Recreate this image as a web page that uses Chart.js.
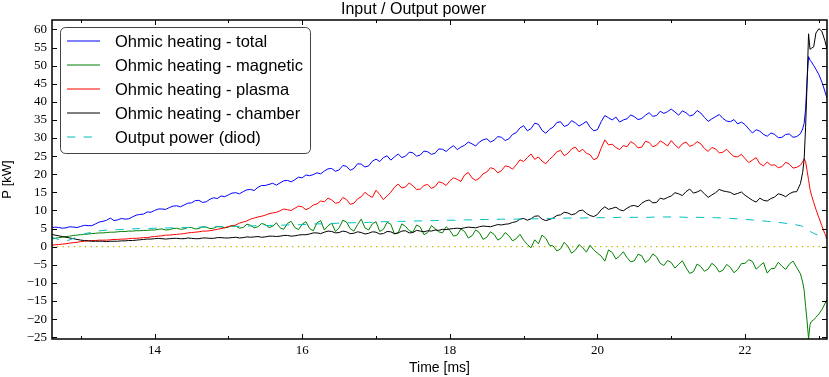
<!DOCTYPE html>
<html>
<head>
<meta charset="utf-8">
<script src="https://cdn.jsdelivr.net/npm/chart.js@4/dist/chart.umd.min.js"></script>
<style>
  html, body { margin: 0; padding: 0; background: #fff; }
  canvas { display: block; }
</style>
</head>
<body>
<canvas id="power-chart" width="829" height="377"></canvas>
<script>
'use strict';

// sample times [ms] of the ohmic heating traces
const times = [
  12.6, 12.65, 12.7, 12.75, 12.8, 12.85, 12.9, 12.95,
  13.0, 13.05, 13.1, 13.15, 13.2, 13.25, 13.3, 13.35, 13.4, 13.45, 13.5, 13.55, 13.6, 13.65, 13.7, 13.75, 13.8, 13.85, 13.9, 13.95,
  14.0, 14.05, 14.1, 14.15, 14.2, 14.25, 14.3, 14.35, 14.4, 14.45, 14.5, 14.55, 14.6, 14.65, 14.7, 14.75, 14.8, 14.85, 14.9, 14.95,
  15.0, 15.05, 15.1, 15.15, 15.2, 15.25, 15.3, 15.35, 15.4, 15.45, 15.5, 15.55, 15.6, 15.65, 15.7, 15.75, 15.8, 15.85, 15.9, 15.95,
  16.0, 16.05, 16.1, 16.15, 16.2, 16.25, 16.3, 16.35, 16.4, 16.45, 16.5, 16.55, 16.6, 16.65, 16.7, 16.75, 16.8, 16.85, 16.9, 16.95,
  17.0, 17.05, 17.1, 17.15, 17.2, 17.25, 17.3, 17.35, 17.4, 17.45, 17.5, 17.55, 17.6, 17.65, 17.7, 17.75, 17.8, 17.85, 17.9, 17.95,
  18.0, 18.05, 18.1, 18.15, 18.2, 18.25, 18.3, 18.35, 18.4, 18.45, 18.5, 18.55, 18.6, 18.65, 18.7, 18.75, 18.8, 18.85, 18.9, 18.95,
  19.0, 19.05, 19.1, 19.15, 19.2, 19.25, 19.3, 19.35, 19.4, 19.45, 19.5, 19.55, 19.6, 19.65, 19.7, 19.75, 19.8, 19.85, 19.9, 19.95,
  20.0, 20.05, 20.1, 20.15, 20.2, 20.25, 20.3, 20.35, 20.4, 20.45, 20.5, 20.55, 20.6, 20.65, 20.7, 20.75, 20.8, 20.85, 20.9, 20.95,
  21.0, 21.05, 21.1, 21.15, 21.2, 21.25, 21.3, 21.35, 21.4, 21.45, 21.5, 21.55, 21.6, 21.65, 21.7, 21.75, 21.8, 21.85, 21.9, 21.95,
  22.0, 22.05, 22.1, 22.15, 22.2, 22.25, 22.3, 22.35, 22.4, 22.45, 22.5, 22.55, 22.6, 22.65, 22.7,
  22.75, 22.78, 22.8, 22.82, 22.84, 22.86, 22.88, 22.9, 22.93, 22.96, 23.0, 23.04, 23.08, 23.11,
];

const ohmicTotal = [
  5.2, 5.4, 5.3, 5.1, 5.2, 5.5, 5.4, 5.3,
  5.6, 5.9, 5.8, 5.8, 6.3, 6.8, 7.0, 7.3, 7.9, 7.2, 7.4, 7.8, 7.6, 7.7, 8.2, 8.7, 8.9, 9.0, 9.6, 9.5,
  10.0, 10.4, 10.4, 10.3, 10.8, 11.2, 11.3, 11.0, 11.5, 12.0, 12.1, 12.7, 12.8, 12.2, 12.4, 13.1, 13.5, 13.3, 14.0, 13.8,
  14.3, 14.8, 14.9, 14.6, 15.2, 15.7, 15.8, 15.5, 16.4, 16.9, 16.9, 17.2, 17.5, 17.0, 17.6, 18.2, 18.3, 17.9, 18.5, 19.2,
  19.0, 19.8, 19.6, 19.9, 20.4, 20.1, 20.9, 21.5, 21.6, 20.8, 21.2, 22.4, 22.2, 21.1, 21.6, 22.9, 22.8, 22.0, 22.3, 23.6,
  24.2, 23.5, 24.6, 25.1, 23.9, 24.8, 25.6, 24.6, 25.0, 26.1, 25.9, 25.0, 25.3, 26.4, 26.2, 25.5, 25.8, 27.0, 26.9, 26.3,
  27.2, 27.9, 26.8, 27.5, 28.0, 28.9, 28.4, 27.8, 28.9, 29.5, 29.8, 28.9, 29.4, 30.4, 30.2, 29.3, 29.8, 31.0, 31.5, 32.8,
  33.4, 32.0, 32.6, 34.1, 33.8, 32.1, 31.3, 32.4, 33.0, 34.3, 34.5, 33.2, 33.6, 34.8, 34.2, 33.3, 33.9, 34.6, 33.0, 32.0,
  32.3, 34.5, 36.2, 35.6, 35.0, 35.8, 34.4, 35.0, 35.3, 36.4, 35.9, 35.1, 35.4, 36.3, 37.0, 36.0, 36.2, 37.4, 36.8, 37.3,
  38.0, 37.2, 36.3, 37.5, 37.0, 36.1, 36.4, 37.6, 36.9, 35.7, 34.6, 35.3, 35.9, 36.5, 35.4, 34.7, 34.5, 35.1, 33.9, 34.4,
  33.7, 32.5, 31.4, 32.3, 31.9, 31.0, 30.5, 31.4, 31.0, 30.1, 30.2, 31.0, 31.1, 30.2, 30.4,
  31.2, 32.5, 34.0, 38.0, 46.0, 52.5, 51.5, 51.0, 50.0, 49.0, 47.5, 45.5, 43.0, 41.0,
];

const ohmicMagnetic = [
  2.1, 2.3, 2.5, 2.6, 2.8, 2.9, 3.1, 3.2,
  3.3, 3.4, 3.5, 3.6, 3.7, 3.8, 3.8, 3.9, 4.0, 4.0, 4.1, 4.2, 4.2, 4.3, 4.3, 4.4, 4.4, 4.5, 4.5, 4.6,
  4.6, 4.8, 4.9, 4.6, 4.7, 5.0, 5.1, 4.8, 4.9, 5.3, 5.3, 4.9, 5.0, 5.5, 5.4, 5.0, 5.1, 5.6, 5.5, 5.2,
  5.4, 5.9, 5.7, 5.1, 5.3, 6.2, 5.9, 5.2, 5.5, 6.4, 6.1, 5.3, 5.6, 6.6, 5.2, 4.8, 6.4, 7.0, 5.3, 4.7,
  6.2, 6.9, 5.0, 4.4, 6.6, 7.2, 4.6, 5.8, 6.5, 4.2, 5.2, 7.3, 6.8, 5.0, 4.3, 6.1, 7.6, 5.2, 4.6, 6.3,
  6.9, 4.2, 4.8, 6.7, 6.2, 3.5, 3.8, 6.3, 5.6, 4.4, 4.0, 6.0, 5.4, 3.3, 3.9, 5.8, 5.0, 4.1, 3.8, 5.5,
  4.5, 2.9, 3.2, 4.9, 4.2, 2.4, 3.0, 4.6, 3.9, 2.0, 2.6, 4.1, 3.4, 1.8, 2.5, 3.9, 3.0, 1.6, 2.2, 3.4,
  1.8, 0.6, -0.3, 1.9, 0.8, 3.2, 2.3, 0.4, 0.2, -1.2, -0.6, 1.2, 0.1, -1.8, -1.0, 0.6, -0.3, -1.5, 0.4, -0.9,
  -1.8, -2.6, -4.0, -0.9, -1.6, -3.4, -2.6, -1.4, -3.0, -4.2, -3.9, -2.1, -2.5, -4.4, -3.6, -2.0, -2.8, -4.6, -5.2, -3.8,
  -4.4, -5.9, -4.9, -3.9, -5.8, -7.4, -6.9, -4.8, -5.5, -6.8, -6.2, -4.6, -5.4, -7.0, -6.5, -4.9, -5.7, -7.2, -6.3, -4.7,
  -4.6, -3.6, -4.1, -6.2, -5.3, -4.4, -7.3, -6.1, -6.0, -4.3, -5.4, -6.3, -4.8, -4.0, -5.8,
  -7.5, -9.8, -12.0, -16.5, -20.5, -25.4, -21.5, -20.6, -20.2, -19.5, -18.6, -17.4, -15.8, -14.6,
];

const ohmicPlasma = [
  0.4, 0.5, 0.6, 0.7, 0.8, 1.0, 1.1, 1.2,
  1.4, 1.5, 1.6, 1.7, 1.7, 1.8, 1.8, 1.8, 1.9, 2.0, 2.0, 2.1, 2.1, 2.2, 2.3, 2.3, 2.4, 2.5, 2.5, 2.7,
  2.8, 2.9, 3.0, 3.2, 3.2, 3.3, 3.4, 3.5, 3.6, 3.8, 3.9, 4.0, 4.1, 4.3, 4.3, 4.4, 4.6, 4.8, 5.0, 5.2,
  5.6, 5.7, 6.0, 6.5, 6.8, 7.1, 7.6, 7.9, 8.2, 8.4, 8.7, 9.1, 9.3, 9.5, 9.9, 10.4, 10.2, 10.0, 10.6, 11.2,
  11.0, 10.2, 10.7, 11.5, 11.8, 12.6, 12.4, 13.4, 12.9, 12.0, 12.2, 13.6, 13.0, 11.7, 12.0, 13.2, 13.8, 15.0, 14.2, 13.6,
  15.6, 14.4, 13.0, 14.0, 15.0, 16.4, 17.3, 16.2, 16.5, 17.6, 16.8, 15.8, 15.9, 16.9, 17.2, 16.1, 16.6, 17.9, 17.6, 16.9,
  18.2, 19.0, 18.6, 18.0, 19.8, 20.5, 19.0, 18.3, 18.9, 20.1, 20.6, 21.8, 21.5, 20.4, 21.0, 22.3, 22.1, 21.4, 22.6, 24.0,
  23.5, 24.6, 25.6, 24.1, 24.8, 23.6, 22.9, 24.1, 25.0, 26.2, 26.6, 25.1, 25.8, 27.0, 27.5, 26.2, 26.9, 25.8, 25.4, 24.0,
  24.5, 27.2, 29.5, 28.1, 28.3, 27.4, 26.8, 27.9, 27.6, 29.0, 28.4, 27.3, 27.5, 29.1, 28.8, 27.6, 28.0, 29.2, 28.6, 27.8,
  29.3, 28.1, 27.2, 28.4, 28.9, 27.7, 28.1, 29.0, 28.4, 27.1, 26.3, 27.4, 27.0, 25.9, 26.1, 26.9, 25.8, 24.9, 24.8, 25.5,
  24.3, 23.2, 23.9, 24.6, 22.9, 22.3, 23.4, 22.5, 22.6, 21.8, 22.1, 23.3, 22.8, 21.7, 21.9,
  22.5, 23.4, 24.3, 23.5, 21.0, 18.5, 15.8, 14.2, 12.2, 10.3, 8.0, 5.8, 3.6, 2.2,
];

const ohmicChamber = [
  3.4, 3.2, 3.0, 2.8, 2.6, 2.4, 2.2, 2.0,
  1.8, 1.7, 1.6, 1.5, 1.5, 1.5, 1.5, 1.4, 1.5, 1.5, 1.5, 1.6, 1.6, 1.7, 1.7, 1.8, 1.9, 2.0, 2.1, 2.1,
  2.2, 2.3, 2.2, 2.1, 2.2, 2.3, 2.3, 2.2, 2.2, 2.4, 2.3, 2.2, 2.2, 2.4, 2.4, 2.3, 2.3, 2.5, 2.5, 2.4,
  2.4, 2.5, 2.6, 2.4, 2.5, 2.7, 2.6, 2.7, 2.8, 2.6, 2.7, 2.9, 2.9, 2.8, 2.9, 3.1, 3.1, 2.9, 3.0, 3.2,
  3.3, 3.3, 3.5, 3.8, 3.8, 3.6, 4.0, 4.3, 4.2, 3.8, 3.9, 4.3, 4.1, 3.6, 3.7, 4.1, 3.9, 3.5, 3.7, 4.1,
  4.0, 3.5, 3.6, 4.2, 4.1, 3.6, 3.8, 4.3, 4.4, 3.8, 3.9, 4.5, 4.3, 4.1, 4.4, 4.3, 4.6, 4.5, 4.8, 4.7,
  4.9, 5.0, 5.1, 5.0, 5.2, 5.4, 5.3, 5.2, 5.5, 5.7, 5.6, 5.5, 5.8, 6.1, 6.0, 6.2, 6.3, 6.7, 6.9, 7.6,
  7.8, 7.3, 7.7, 8.4, 8.5, 7.6, 7.2, 7.5, 7.9, 8.6, 8.8, 9.5, 9.3, 8.8, 9.1, 9.9, 10.1, 9.2, 8.6, 8.3,
  8.9, 10.2, 11.0, 10.3, 10.6, 10.9, 10.2, 9.9, 10.6, 11.2, 11.4, 11.0, 12.0, 12.6, 12.9, 12.1, 12.2, 13.4, 13.1, 13.6,
  14.0, 14.9, 14.6, 14.1, 15.2, 15.9, 14.8, 15.1, 15.6, 14.6, 13.6, 14.3, 14.9, 15.8, 15.4, 15.2, 15.0, 14.4, 14.7, 15.1,
  14.2, 13.5, 12.8, 12.3, 13.4, 12.8, 12.6, 13.3, 13.7, 14.6, 14.3, 13.8, 14.6, 15.1, 15.2,
  17.4, 20.5, 24.0, 33.0, 45.0, 58.8, 54.5, 54.8, 55.2, 59.0, 60.2, 59.5, 57.0, 54.5,
];

// output power is smooth, sampled more coarsely
const diodTimes = [
  12.6, 12.7, 12.8, 12.9,
  13.0, 13.1, 13.2, 13.3, 13.4, 13.5, 13.6, 13.7, 13.8, 13.9,
  14.0, 14.1, 14.2, 14.3, 14.4, 14.5, 14.6, 14.7, 14.8, 14.9,
  15.0, 15.1, 15.2, 15.3, 15.4, 15.5, 15.6, 15.7, 15.8, 15.9,
  16.0, 16.1, 16.2, 16.3, 16.4, 16.5, 16.6, 16.7, 16.8, 16.9,
  17.0, 17.1, 17.2, 17.3, 17.4, 17.5, 17.6, 17.7, 17.8, 17.9,
  18.0, 18.1, 18.2, 18.3, 18.4, 18.5, 18.6, 18.7, 18.8, 18.9,
  19.0, 19.1, 19.2, 19.3, 19.4, 19.5, 19.6, 19.7, 19.8, 19.9,
  20.0, 20.1, 20.2, 20.3, 20.4, 20.5, 20.6, 20.7, 20.8, 20.9,
  21.0, 21.1, 21.2, 21.3, 21.4, 21.5, 21.6, 21.7, 21.8, 21.9,
  22.0, 22.1, 22.2, 22.3, 22.4, 22.5, 22.6, 22.7,
  22.75, 22.78, 22.8, 22.82, 22.84, 22.86, 22.88, 22.9, 22.93, 22.96, 23.0, 23.04, 23.08, 23.11,
];

const outputDiod = [
  2.6, 2.0, 1.5, 2.3,
  3.2, 3.8, 4.2, 4.5, 4.6, 4.7, 4.8, 4.9, 5.0, 5.0,
  5.1, 5.1, 5.2, 5.2, 5.3, 5.3, 5.4, 5.4, 5.5, 5.5,
  5.6, 5.6, 5.7, 5.7, 5.8, 5.8, 5.9, 5.9, 6.0, 6.0,
  6.1, 6.2, 6.3, 6.3, 6.4, 6.5, 6.6, 6.6, 6.7, 6.7,
  6.8, 6.9, 6.9, 7.0, 7.0, 7.1, 7.1, 7.2, 7.2, 7.3,
  7.3, 7.3, 7.4, 7.4, 7.5, 7.5, 7.5, 7.6, 7.6, 7.6,
  7.7, 7.7, 7.7, 7.8, 7.8, 7.8, 7.9, 7.9, 7.9, 8.0,
  8.0, 8.0, 8.0, 8.1, 8.1, 8.1, 8.1, 8.1, 8.2, 8.2,
  8.2, 8.2, 8.1, 8.1, 8.1, 8.0, 8.0, 7.9, 7.8, 7.7,
  7.5, 7.4, 7.2, 7.0, 6.8, 6.6, 6.3, 6.0,
  5.8, 5.6, 5.4, 5.2, 5.0, 4.6, 4.2, 4.0, 3.7, 3.4, 3.1, 2.8, 2.5, 2.3,
];

const zeroTimes = [12.6, 23.11];
const zeroValues = [0, 0];

const seriesLabels = [
  'Ohmic heating - total',
  'Ohmic heating - magnetic',
  'Ohmic heating - plasma',
  'Ohmic heating - chamber',
  'Output power (diod)',
];

const xTicks = [14, 16, 18, 20, 22];
const xTickLabels = ['14', '16', '18', '20', '22'];
const xMinorTicks = [13, 15, 17, 19, 21, 23];
const yTicks = [-25, -20, -15, -10, -5, 0, 5, 10, 15, 20, 25, 30, 35, 40, 45, 50, 55, 60];
const yTickLabels = ['\u221225', '\u221220', '\u221215', '\u221210', '\u22125', '0', '5', '10', '15',
  '20', '25', '30', '35', '40', '45', '50', '55', '60'];

const SansFont = 'Liberation Sans, Arial, sans-serif';
const SerifFont = 'Liberation Serif, Times New Roman, serif';
const lineColors = ['#0000ff', '#008000', '#ff0000', '#000000', '#00bfbf'];
const DiodDash = [8.3, 8.3];

function toPoints(xs, ys) {
  return xs.map((x, i) => ({ x, y: ys[i] }));
}

// frame and inward ticks, matplotlib classic style
const frameTicks = {
  id: 'frameTicks',
  afterDatasetsDraw(chart) {
    const { ctx, chartArea: a, scales } = chart;
    ctx.save();
    ctx.strokeStyle = '#000';
    ctx.lineWidth = 1;
    ctx.beginPath();
    const tick = (x1, y1, x2, y2) => { ctx.moveTo(x1, y1); ctx.lineTo(x2, y2); };
    xTicks.forEach(v => {
      const px = Math.round(scales.x.getPixelForValue(v)) + 0.5;
      tick(px, a.bottom, px, a.bottom - 5);
      tick(px, a.top, px, a.top + 5);
    });
    xMinorTicks.forEach(v => {
      const px = Math.round(scales.x.getPixelForValue(v)) + 0.5;
      tick(px, a.bottom, px, a.bottom - 3);
      tick(px, a.top, px, a.top + 3);
    });
    yTicks.forEach(v => {
      const py = Math.round(scales.y.getPixelForValue(v)) + 0.5;
      tick(a.left, py, a.left + 5, py);
      tick(a.right, py, a.right - 5, py);
    });
    ctx.stroke();
    ctx.lineWidth = 1.5;
    ctx.strokeRect(a.left, a.top, a.right - a.left, a.bottom - a.top);
    ctx.restore();
  },
};

// legend box in the upper left corner of the plot
const boxLegend = {
  id: 'boxLegend',
  afterDraw(chart) {
    const { ctx, chartArea: a } = chart;
    const x0 = Math.round(a.left) + 8, y0 = Math.round(a.top) + 7;
    const w = 250, h = 126;
    ctx.save();
    ctx.beginPath();
    ctx.roundRect(x0 + 0.5, y0 + 0.5, w, h, 5);
    ctx.fillStyle = '#ffffff';
    ctx.fill();
    ctx.strokeStyle = '#444444';
    ctx.lineWidth = 1;
    ctx.stroke();

    seriesLabels.forEach((label, i) => {
      const y = y0 + 14 + i * 24;
      ctx.beginPath();
      ctx.strokeStyle = lineColors[i];
      ctx.lineWidth = 1.2;
      ctx.setLineDash(i === 4 ? DiodDash : []);
      ctx.moveTo(x0 + 7, y);
      ctx.lineTo(x0 + 40, y);
      ctx.stroke();
      ctx.setLineDash([]);
      ctx.font = '16.5px ' + SansFont;
      ctx.textBaseline = 'middle';
      ctx.fillStyle = '#000000';
      ctx.fillText(label, x0 + 55, y + 1);
    });
    ctx.restore();
  },
};

const seriesValues = [ohmicTotal, ohmicMagnetic, ohmicPlasma, ohmicChamber, outputDiod];

const datasets = seriesValues.map((ys, i) => ({
  label: seriesLabels[i],
  data: toPoints(i === 4 ? diodTimes : times, ys),
  borderColor: lineColors[i],
  borderWidth: 1,
  borderDash: i === 4 ? DiodDash : [],
  pointRadius: 0,
  order: 5 - i,
}));
datasets.push({
  label: 'zero',
  data: toPoints(zeroTimes, zeroValues),
  borderColor: '#bfbf00',
  borderWidth: 1.3,
  borderDash: [1.4, 4.2],
  pointRadius: 0,
  order: 6,
});

new Chart(document.getElementById('power-chart'), {
  type: 'line',
  data: { datasets },
  options: {
    responsive: false,
    animation: false,
    layout: { padding: { left: 0, right: 2, top: 0, bottom: 0 } },
    elements: { line: { tension: 0 } },
    plugins: {
      legend: { display: false },
      tooltip: { enabled: false },
      title: {
        display: true,
        text: 'Input / Output power',
        color: '#000',
        font: { family: SansFont, size: 16, weight: 'normal', lineHeight: 1.2 },
        padding: { top: 0, bottom: 0.8 },
      },
    },
    scales: {
      x: {
        type: 'linear',
        min: 12.61,
        max: 23.11,
        grid: { display: false, drawTicks: false },
        border: { display: false },
        afterBuildTicks: s => { s.ticks = xTicks.map(v => ({ value: v })); },
        afterFit: s => { s.height = 38; },
        ticks: {
          color: '#000',
          padding: 4,
          maxRotation: 0,
          autoSkip: false,
          font: { family: SerifFont, size: 13 },
          callback: v => xTickLabels[xTicks.indexOf(v)] ?? '',
        },
        title: {
          display: true,
          text: 'Time [ms]',
          color: '#000',
          padding: 0,
          font: { family: SansFont, size: 14 },
        },
      },
      y: {
        min: -25.5,
        max: 62.6,
        grid: { display: false, drawTicks: false },
        border: { display: false },
        afterBuildTicks: s => { s.ticks = yTicks.map(v => ({ value: v })); },
        afterFit: s => { s.width = 52; },
        ticks: {
          color: '#000',
          padding: 5,
          autoSkip: false,
          font: { family: SerifFont, size: 13 },
          callback: v => yTickLabels[yTicks.indexOf(v)] ?? '',
        },
        title: {
          display: true,
          text: 'P [kW]',
          color: '#000',
          padding: 0,
          font: { family: SansFont, size: 13 },
        },
      },
    },
  },
  plugins: [frameTicks, boxLegend],
});
</script>
</body>
</html>
